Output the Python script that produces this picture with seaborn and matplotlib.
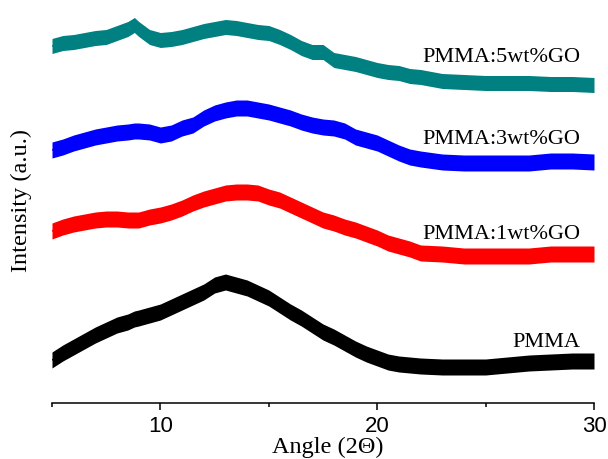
import matplotlib
matplotlib.use("Agg")
import matplotlib.pyplot as plt
from matplotlib.ticker import FixedLocator, NullFormatter
import pandas as pd
import seaborn as sns

# Diffraction angle (2 theta, degrees)
angle = [5, 5.5, 6, 6.5, 7, 7.5, 8, 8.5, 8.8, 9, 9.5, 10, 10.5, 11, 11.5, 12, 12.5,
         13, 13.5, 14, 14.5, 15, 15.5, 16, 16.5, 17, 17.5, 18, 18.5, 19, 19.5, 20,
         20.5, 21, 21.5, 22, 23, 24, 25, 26, 27, 28, 29, 30]

# Stacked intensity traces (arbitrary units, offset per sample)
pmma = [43, 50, 56, 62, 68, 73, 78, 81, 84, 85, 88, 91, 96, 101, 106, 111, 118,
        121, 118, 115, 110, 105, 98, 91, 85, 78, 71, 66, 60, 54, 49, 45,
        41, 39, 38, 37, 36, 36, 36, 38, 40, 41, 42, 42]
pmma_1go = [172, 176, 179, 181, 183, 184, 184, 183, 183, 183, 186, 188, 191, 195, 200,
            204, 207, 210, 211, 211, 210, 206, 203, 198, 193, 188, 183, 180, 176, 173,
            169, 165, 160, 157, 154, 150, 149, 147, 147, 147, 147, 149, 149, 149]
pmma_3go = [253, 256, 260, 263, 266, 268, 270, 271, 272, 272, 271, 268, 270, 275, 278,
            285, 290, 293, 295, 295, 293, 291, 288, 285, 281, 278, 276, 275, 272, 266,
            263, 260, 255, 250, 246, 244, 241, 240, 240, 240, 240, 242, 242, 241]
pmma_5go = [357, 360, 361, 363, 365, 366, 370, 374, 378, 374, 366, 363, 364, 366, 369,
            372, 374, 376, 375, 373, 371, 370, 366, 361, 355, 351, 351, 343, 341, 339,
            336, 333, 331, 330, 327, 326, 322, 321, 320, 320, 320, 319, 319, 318]

# Half-width of the counting noise band on each trace
noise = [8, 8, 8, 7.5]

samples = ["PMMA", "PMMA:1wt%GO", "PMMA:3wt%GO", "PMMA:5wt%GO"]
colors = ["#000000", "#ff0000", "#0000ff", "#008080"]
label_y = [56, 164, 259, 341]

sns.set_theme(style="white")
plt.rcParams["font.family"] = ["Liberation Serif", "DejaVu Serif"]

fig = plt.figure(figsize=(6.08, 4.59), dpi=100)
ax = fig.add_axes([52 / 608, 56 / 459, 542 / 608, 398 / 459])

series = [pmma, pmma_1go, pmma_3go, pmma_5go]
for name, values, spread, color in zip(samples, series, noise, colors):
    rows = []
    for a, v in zip(angle, values):
        for d in (-spread, 0, spread):
            rows.append({"angle": a, "intensity": v + d})
    df = pd.DataFrame(rows)
    sns.lineplot(data=df, x="angle", y="intensity", ax=ax, color=color,
                 estimator="mean", errorbar=("pi", 100), linewidth=1.0,
                 err_kws={"alpha": 1.0, "linewidth": 0})

for name, y in zip(samples, label_y):
    ax.text(29.35, y, name, ha="right", va="baseline", fontsize=16,
            color="black", family=["Liberation Serif", "DejaVu Serif"])

ax.set_xlim(5, 30)
ax.set_ylim(0, 398)
for side in ("left", "right", "top"):
    ax.spines[side].set_visible(False)
ax.spines["bottom"].set_color("black")
ax.spines["bottom"].set_linewidth(1.1)

ax.xaxis.set_major_locator(FixedLocator([10, 20, 30]))
ax.xaxis.set_minor_locator(FixedLocator([5, 15, 25]))
ax.xaxis.set_minor_formatter(NullFormatter())
ax.tick_params(axis="x", which="major", direction="out", length=5, width=1.1,
               color="black", bottom=True, pad=4)
ax.tick_params(axis="x", which="minor", direction="out", length=3, width=1.1,
               color="black", bottom=True)
for lbl in ax.get_xticklabels():
    lbl.set_fontfamily(["Liberation Sans", "DejaVu Sans"])
    lbl.set_fontsize(16)
    lbl.set_color("black")
ax.set_yticks([])
ax.set_xlabel("")
ax.set_ylabel("")
ax.grid(False)

fig.text(328 / 608, 6 / 459, "Angle (2\u0398)", ha="center", va="baseline",
         fontsize=17.5, color="black")
fig.text(21 / 608, 1 - 200 / 459, "Intensity (a.u.)", ha="center", va="center",
         rotation=90, fontsize=17.5, color="black")

fig.savefig("out.png", dpi=100)
